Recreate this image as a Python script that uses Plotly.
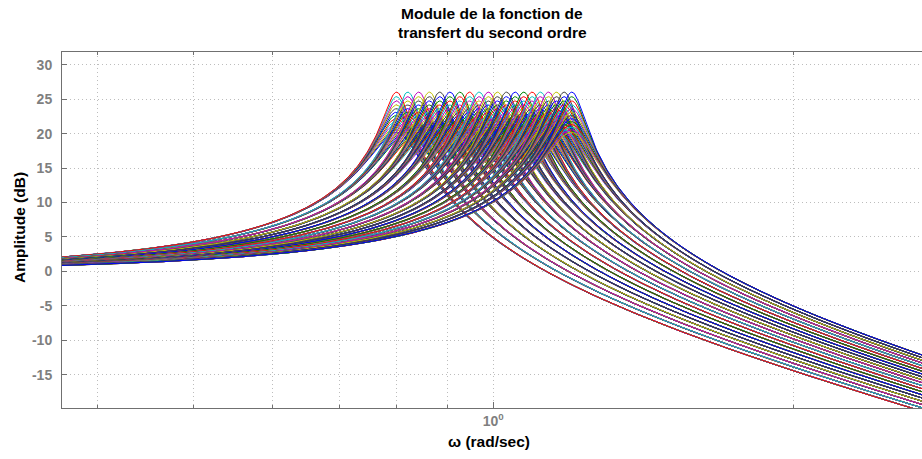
import numpy as np
import plotly.graph_objects as go

# Natural frequencies (rad/s) and damping ratios of the second-order family
wn_values = [0.8000, 0.8211, 0.8421, 0.8632, 0.8842, 0.9053, 0.9263, 0.9474, 0.9684, 0.9895,
             1.0105, 1.0316, 1.0526, 1.0737, 1.0947, 1.1158, 1.1368, 1.1579, 1.1789, 1.2000]
zeta_values = [0.025, 0.027, 0.029, 0.031, 0.033, 0.035, 0.037, 0.039, 0.041, 0.043, 0.045, 0.047, 0.049]

# Axis ticks
y_ticks = [-15, -10, -5, 0, 5, 10, 15, 20, 25, 30]
y_tick_labels = ["-15", "-10", "-5", "0", "5", "10", "15", "20", "25", "30"]
x_major_ticks = [1.0]
x_major_labels = ["10<sup>0</sup>"]
x_minor_ticks = [0.4, 0.5, 0.6, 0.7, 0.8, 0.9, 2.0]

# MATLAB classic colour order
color_order = ["#0000ff", "#008000", "#ff0000", "#00bfbf", "#bf00bf", "#bfbf00", "#404040"]

w = np.logspace(-0.44, 0.44, 900)

fig = go.Figure()
for i, wn in enumerate(wn_values):
    for j in reversed(range(len(zeta_values))):
        z = zeta_values[j]
        r = w / wn
        mag = -10 * np.log10((1 - r**2) ** 2 + (2 * z * r) ** 2)
        fig.add_trace(go.Scatter(
            x=np.round(w, 5), y=np.round(mag, 3), mode="lines",
            line=dict(color=color_order[(2 + i + j) % 7], width=1),
            showlegend=False, hoverinfo="skip"))

axis_gray = "#707070"
label_gray = "#7f7f7f"
grid_gray = "#bdbdbd"
plot_h = 408 - 52
plot_w = 922 - 62


def px_x(px):
    return (px - 62) / plot_w


def px_y(py):
    return (408 - py) / plot_h


fig.update_layout(
    width=922, height=459,
    margin=dict(l=62, r=0, t=52, b=51),
    paper_bgcolor="white", plot_bgcolor="white",
    font=dict(family="Liberation Sans, Arial, sans-serif", size=14, color="black"),
    xaxis=dict(type="log", range=[-0.4332, 0.4306],
               showline=True, linecolor=axis_gray, linewidth=1, mirror="ticks",
               ticks="inside", ticklen=6, tickcolor=axis_gray,
               tickvals=x_major_ticks, ticktext=x_major_labels,
               tickfont=dict(size=14, color=label_gray, weight="bold"),
               showgrid=True, gridcolor=grid_gray, griddash="1px,3px", gridwidth=1,
               minor=dict(tickvals=x_minor_ticks, ticks="inside", ticklen=3,
                          tickcolor=axis_gray, showgrid=True,
                          gridcolor=grid_gray, griddash="1px,3px", gridwidth=1),
               zeroline=False),
    yaxis=dict(range=[-19.83, 31.85],
               showline=True, linecolor=axis_gray, linewidth=1, mirror=False,
               ticks="inside", ticklen=5, tickcolor=axis_gray,
               tickvals=y_ticks, ticktext=y_tick_labels,
               tickfont=dict(size=14, color=label_gray, weight="bold"),
               ticklabelstandoff=6,
               showgrid=True, gridcolor=grid_gray, griddash="1px,3px", gridwidth=1,
               zeroline=False),
    annotations=[
        dict(text="<b>Module de la fonction de</b>",
             x=px_x(492), xref="paper", y=px_y(13.5), yref="paper", showarrow=False,
             xanchor="center", yanchor="middle", font=dict(size=15.5, color="black")),
        dict(text="<b>transfert du second ordre</b>",
             x=px_x(492), xref="paper", y=px_y(32), yref="paper", showarrow=False,
             xanchor="center", yanchor="middle", font=dict(size=15.5, color="black")),
        dict(text="<b>ω (rad/sec)</b>", x=px_x(489), xref="paper",
             y=px_y(441), yref="paper", showarrow=False,
             xanchor="center", yanchor="middle", font=dict(size=15.5, color="black")),
        dict(text="<b>Amplitude (dB)</b>", x=px_x(19), xref="paper",
             y=px_y(228), yref="paper", showarrow=False, textangle=-90,
             xanchor="center", yanchor="middle", font=dict(size=15.5, color="black")),
    ],
)

fig.write_html("out.html", config={"displayModeBar": False},
               post_script="document.body.style.margin='0';document.body.style.overflow='hidden';")
